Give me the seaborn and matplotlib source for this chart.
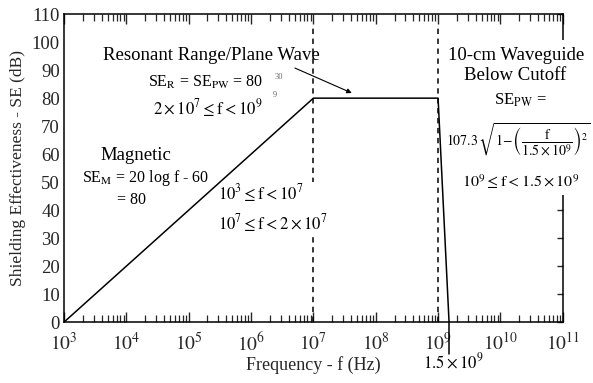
import numpy as np
import pandas as pd
import matplotlib
matplotlib.use("Agg")
import matplotlib.pyplot as plt
import matplotlib.ticker as mticker
from matplotlib.patches import Rectangle
import seaborn as sns

# curve corner points (Hz, dB)
freq = [1e3, 1e7, 1e9, 1.5e9]
se_db = [0, 80, 80, 0]
# region boundaries (dashed)
boundaries = [1e7, 1e9]
cutoff = 1.5e9
x_decades = [3, 4, 5, 6, 7, 8, 9, 10, 11]
y_ticks = [0, 10, 20, 30, 40, 50, 60, 70, 80, 90, 100, 110]

sns.set_style("ticks")
plt.rcParams["font.family"] = ["Liberation Serif", "DejaVu Serif"]
plt.rcParams["mathtext.fontset"] = "stix"

fig = plt.figure(figsize=(5.93, 3.83), dpi=100)
ax = fig.add_axes([0.108, 0.159, 0.841, 0.804])

df = pd.DataFrame({"f": freq, "SE": se_db})
sns.lineplot(data=df, x="f", y="SE", color="black", lw=1.1,
             estimator=None, sort=False, ax=ax)
for b in boundaries:
    ax.plot([b, b], [0, 105], color="black", lw=1.1, ls=(0, (3.5, 3)))
# cutoff marker running below the axis
ax.plot([cutoff, cutoff], [0, -11.5], color="black", lw=1.1, clip_on=False)

ax.set_xscale("log")
ax.set_xlim(10.0 ** x_decades[0], 10.0 ** x_decades[-1])
ax.set_ylim(0, 110)
ax.set_xticks([10.0 ** d for d in x_decades])
ax.set_xticklabels([rf"$10^{{{d}}}$" for d in x_decades])
ax.xaxis.set_minor_locator(mticker.LogLocator(base=10, subs=range(2, 10), numticks=20))
ax.xaxis.set_minor_formatter(mticker.NullFormatter())
ax.set_yticks(y_ticks)
ax.set_yticklabels([str(v) for v in y_ticks])

for s in ax.spines.values():
    s.set_linewidth(1.1)
    s.set_color("black")
ax.tick_params(axis="x", which="major", direction="in", top=True, bottom=True,
               length=7, width=1, labelsize=14, pad=7)
ax.tick_params(axis="x", which="minor", direction="in", top=True, bottom=True,
               length=5, width=0.9)
ax.tick_params(axis="y", which="major", direction="in", left=False, right=True,
               length=4, width=1, labelsize=13.5, pad=3)

ax.set_xlabel("Frequency - f (Hz)", fontsize=13, labelpad=1)
ax.set_ylabel("Shielding Effectiveness - SE (dB)", fontsize=12.5, labelpad=4)

# white patches that hide parts of the spine / dashed line behind text
ax.add_patch(Rectangle((0.772, 0.412), 0.3, 0.505, transform=ax.transAxes,
                       facecolor="white", edgecolor="none", zorder=2.7, clip_on=False))
ax.add_patch(Rectangle((0.47, 0.29), 0.07, 0.165, transform=ax.transAxes,
                       facecolor="white", edgecolor="none", zorder=2.7, clip_on=False))

T = ax.transAxes
kw = dict(transform=T, color="black", zorder=3, clip_on=False)

ax.text(0.078, 0.867, "Resonant Range/Plane Wave", fontsize=13.5, ha="left", va="center", **kw)
ax.text(0.168, 0.779, r"SE$_\mathrm{R}$ = SE$_\mathrm{PW}$ = 80", fontsize=11.5, ha="left", va="center", **kw)
ax.text(0.423, 0.795, "30", fontsize=6, ha="left", va="center", alpha=0.6, **kw)
ax.text(0.419, 0.737, "9", fontsize=6, ha="left", va="center", alpha=0.6, **kw)
ax.text(0.178, 0.695, r"$2\times10^7\leq \mathrm{f} < 10^9$", fontsize=12, ha="left", va="center", **kw)

ax.text(0.074, 0.542, "Magnetic", fontsize=13.5, ha="left", va="center", **kw)
ax.text(0.036, 0.468, r"SE$_\mathrm{M}$ = 20 log f - 60", fontsize=11.5, ha="left", va="center", **kw)
ax.text(0.106, 0.396, "= 80", fontsize=11.5, ha="left", va="center", **kw)
ax.text(0.309, 0.419, r"$10^3 \leq \mathrm{f} < 10^7$", fontsize=12, ha="left", va="center", **kw)
ax.text(0.309, 0.321, r"$10^7 \leq \mathrm{f} < 2\times10^7$", fontsize=12, ha="left", va="center", **kw)

ax.text(0.906, 0.867, "10-cm Waveguide", fontsize=13.5, ha="center", va="center", **kw)
ax.text(0.904, 0.802, "Below Cutoff", fontsize=13.5, ha="center", va="center", **kw)
ax.text(0.914, 0.721, r"SE$_\mathrm{PW}$ =", fontsize=12, ha="center", va="center", **kw)
ax.text(0.766, 0.591,
        r"$107.3\,\sqrt{1\!-\!\left(\dfrac{\mathrm{f}}{1.5\times10^9}\right)^2}$",
        fontsize=10, ha="left", va="center", **kw)
ax.text(0.916, 0.455, r"$10^9\leq \mathrm{f} < 1.5\times10^9$", fontsize=11.5, ha="center", va="center", **kw)
ax.text(0.780, -0.130, r"$1.5\times10^9$", fontsize=12, ha="center", va="center", **kw)

ax.annotate("", xy=(0.577, 0.744), xytext=(0.463, 0.825), xycoords=T, textcoords=T,
            arrowprops=dict(arrowstyle="-|>", color="black", lw=0.8,
                            mutation_scale=7, shrinkA=0, shrinkB=0))

fig.savefig("out.png", dpi=100)
